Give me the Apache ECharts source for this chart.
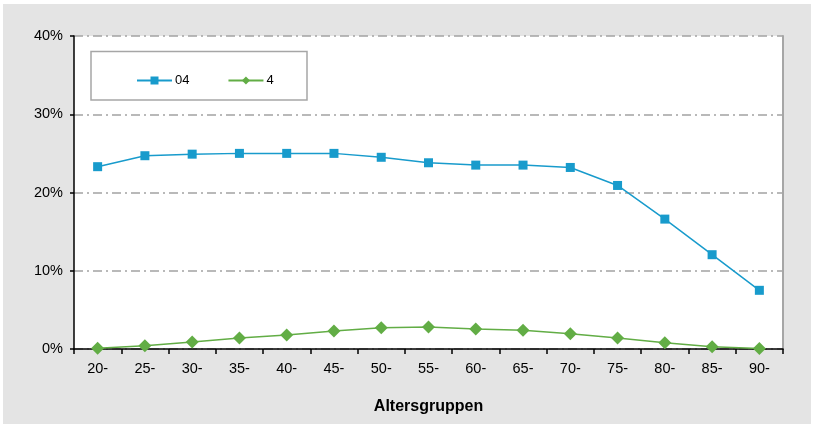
<!DOCTYPE html>
<html>
<head>
<meta charset="utf-8">
<script src="https://cdn.jsdelivr.net/npm/echarts@6/dist/echarts.min.js"></script>
<style>
  html, body { margin: 0; padding: 0; background: #ffffff; }
  #chart { width: 813px; height: 426px; }
</style>
</head>
<body>
<div id="chart"></div>
<script>
// Age groups on the x axis
const categories = ['20-', '25-', '30-', '35-', '40-', '45-', '50-', '55-', '60-', '65-', '70-', '75-', '80-', '85-', '90-'];
// Shares in percent per age group
const series04 = [23.3, 24.7, 24.9, 25.0, 25.0, 25.0, 24.5, 23.8, 23.5, 23.5, 23.2, 20.9, 16.6, 12.05, 7.5];
const series4 = [0.1, 0.4, 0.9, 1.4, 1.8, 2.3, 2.7, 2.8, 2.55, 2.4, 1.95, 1.4, 0.8, 0.3, 0.05];
const seriesNames = ['04', '4'];
const yTicks = { min: 0, max: 40, interval: 10 };

const FONT = '"Liberation Sans", Arial, sans-serif';
const BLUE = '#189bcc';
const GREEN = '#62ad45';

const chart = echarts.init(document.getElementById('chart'), null, { renderer: 'canvas' });

chart.setOption({
  animation: false,
  backgroundColor: '#ffffff',
  textStyle: { fontFamily: FONT, color: '#000' },
  graphic: [
    { type: 'rect', z: -10, silent: true,
      shape: { x: 3, y: 4, width: 808, height: 420 },
      style: { fill: '#e4e4e4' } },
    { type: 'rect', z: -9, silent: true,
      shape: { x: 74, y: 36, width: 709, height: 313 },
      style: { fill: '#ffffff' } },
    { type: 'rect', z: 5, silent: true,
      shape: { x: 91, y: 51.5, width: 216, height: 48.5 },
      style: { fill: '#ffffff', stroke: '#a6a6a6', lineWidth: 1.5 } }
  ],
  legend: {
    z: 10,
    left: 131,
    top: 69,
    itemWidth: 35,
    itemHeight: 10,
    itemGap: 38,
    textStyle: { fontFamily: FONT, fontSize: 13, color: '#000', padding: [0, 0, 0, -2] },
    data: seriesNames
  },
  grid: { left: 74, right: 30, top: 36, bottom: 77 },
  xAxis: {
    type: 'category',
    data: categories,
    boundaryGap: true,
    name: 'Altersgruppen',
    nameLocation: 'middle',
    nameGap: 50,
    nameTextStyle: { fontFamily: FONT, fontSize: 16, fontWeight: 'bold', color: '#000' },
    axisLine: { lineStyle: { color: '#000', width: 1.5 } },
    axisTick: { show: true, length: 5, lineStyle: { color: '#000', width: 1.5 }, interval: 0 },
    axisLabel: { fontFamily: FONT, fontSize: 14.5, color: '#000', margin: 12, interval: 0 },
    splitLine: { show: false }
  },
  yAxis: [
    {
      type: 'value',
      min: yTicks.min,
      max: yTicks.max,
      interval: yTicks.interval,
      axisLine: { show: true, lineStyle: { color: '#000', width: 1.5 } },
      axisTick: { show: true, length: 4, lineStyle: { color: '#000', width: 1.5 } },
      axisLabel: { fontFamily: FONT, fontSize: 14.5, color: '#000', margin: 11, formatter: '{value}%' },
      splitLine: { show: true, lineStyle: { color: '#a3a3a3', width: 1.5, type: [9, 4, 2, 4] } }
    },
    {
      type: 'value',
      position: 'right',
      min: yTicks.min,
      max: yTicks.max,
      interval: yTicks.interval,
      axisLine: { show: true, lineStyle: { color: '#a6a6a6', width: 2 } },
      axisTick: { show: false },
      axisLabel: { show: false },
      splitLine: { show: false }
    }
  ],
  series: [
    {
      name: seriesNames[0],
      type: 'line',
      data: series04,
      symbol: 'rect',
      symbolSize: 9,
      itemStyle: { color: BLUE },
      lineStyle: { color: BLUE, width: 1.5 },
      z: 3
    },
    {
      name: seriesNames[1],
      type: 'line',
      data: series4,
      symbol: 'diamond',
      symbolSize: 13,
      itemStyle: { color: GREEN },
      lineStyle: { color: GREEN, width: 1.5 },
      z: 3
    }
  ]
});
</script>
</body>
</html>
